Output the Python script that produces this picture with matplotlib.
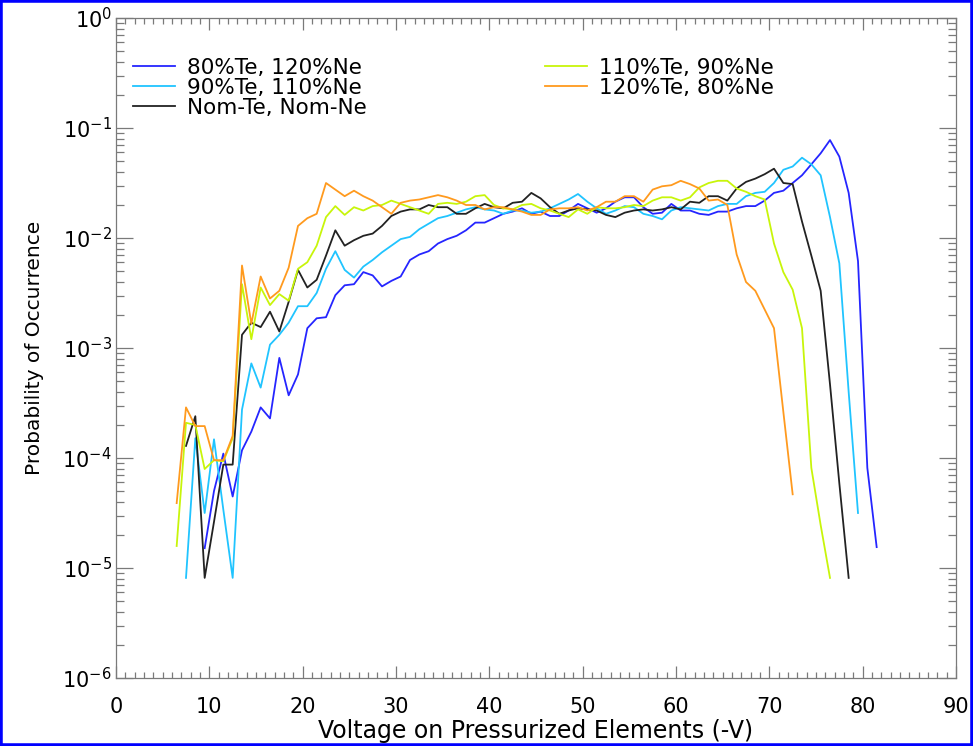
import numpy as np
import matplotlib
matplotlib.use("Agg")
import matplotlib.pyplot as plt
from matplotlib.patches import Rectangle
from matplotlib.ticker import MultipleLocator, LogLocator, FixedLocator, NullFormatter

# log10(probability of occurrence), one value per 1 V bin
v_blue = np.arange(9.5, 82.0, 1.0)
lp_blue = [-4.82, -4.30, -3.96, -4.35, -3.93, -3.76, -3.54, -3.64, -3.09, -3.43,
           -3.24, -2.82, -2.73, -2.72, -2.52, -2.43, -2.42, -2.31, -2.34, -2.44,
           -2.39, -2.35, -2.20, -2.15, -2.12, -2.05, -2.01, -1.98, -1.93, -1.86,
           -1.86, -1.82, -1.78, -1.76, -1.73, -1.78, -1.76, -1.80, -1.80, -1.75,
           -1.69, -1.73, -1.77, -1.73, -1.67, -1.63, -1.63, -1.72, -1.78, -1.77,
           -1.69, -1.75, -1.75, -1.78, -1.79, -1.76, -1.76, -1.73, -1.71, -1.71,
           -1.66, -1.59, -1.57, -1.50, -1.43, -1.33, -1.23, -1.11, -1.26, -1.59,
           -2.21, -4.09, -4.81]

v_cyan = np.arange(7.5, 80.0, 1.0)
lp_cyan = [-5.09, -3.82, -4.50, -3.83, -4.47, -5.09, -3.56, -3.14, -3.36, -2.97,
           -2.88, -2.77, -2.62, -2.62, -2.50, -2.28, -2.12, -2.29, -2.36, -2.26,
           -2.20, -2.13, -2.07, -2.01, -1.99, -1.92, -1.87, -1.82, -1.80, -1.77,
           -1.74, -1.72, -1.74, -1.75, -1.78, -1.75, -1.75, -1.77, -1.76, -1.73,
           -1.69, -1.65, -1.60, -1.67, -1.73, -1.78, -1.75, -1.71, -1.72, -1.78,
           -1.80, -1.83, -1.75, -1.72, -1.73, -1.74, -1.75, -1.71, -1.69, -1.69,
           -1.62, -1.59, -1.58, -1.50, -1.38, -1.35, -1.27, -1.33, -1.43, -1.81,
           -2.23, -3.40, -4.50]

v_nom = np.arange(7.5, 79.0, 1.0)
lp_nom = [-3.89, -3.62, -5.09, -4.58, -4.06, -4.06, -2.88, -2.77, -2.81, -2.67,
          -2.85, -2.58, -2.29, -2.45, -2.38, -2.16, -1.93, -2.07, -2.02, -1.98,
          -1.96, -1.89, -1.80, -1.76, -1.74, -1.74, -1.70, -1.72, -1.72, -1.78,
          -1.78, -1.73, -1.69, -1.72, -1.73, -1.68, -1.67, -1.59, -1.64, -1.72,
          -1.78, -1.75, -1.73, -1.74, -1.75, -1.79, -1.81, -1.77, -1.75, -1.74,
          -1.75, -1.74, -1.72, -1.74, -1.67, -1.68, -1.62, -1.62, -1.66, -1.55,
          -1.49, -1.46, -1.42, -1.37, -1.50, -1.51, -1.85, -2.16, -2.48, -3.33,
          -4.23, -5.09]

v_yel = np.arange(6.5, 77.0, 1.0)
lp_yel = [-4.80, -3.68, -3.70, -4.10, -4.02, -4.03, -3.82, -2.42, -2.92, -2.45,
          -2.61, -2.51, -2.57, -2.28, -2.22, -2.07, -1.81, -1.71, -1.79, -1.72,
          -1.75, -1.71, -1.70, -1.66, -1.69, -1.72, -1.75, -1.78, -1.69, -1.68,
          -1.69, -1.67, -1.62, -1.61, -1.70, -1.73, -1.74, -1.70, -1.69, -1.73,
          -1.75, -1.78, -1.81, -1.74, -1.78, -1.72, -1.73, -1.73, -1.72, -1.70,
          -1.71, -1.66, -1.63, -1.63, -1.66, -1.63, -1.54, -1.50, -1.48, -1.48,
          -1.55, -1.58, -1.62, -1.65, -2.05, -2.31, -2.47, -2.82, -4.09, -4.61,
          -5.09]

v_org = np.arange(6.5, 73.0, 1.0)
lp_org = [-4.41, -3.54, -3.71, -3.71, -4.02, -4.02, -3.80, -2.25, -2.78, -2.35,
          -2.55, -2.48, -2.27, -1.89, -1.82, -1.78, -1.50, -1.56, -1.62, -1.57,
          -1.62, -1.66, -1.72, -1.78, -1.68, -1.66, -1.65, -1.63, -1.61, -1.63,
          -1.66, -1.70, -1.70, -1.74, -1.72, -1.72, -1.74, -1.76, -1.79, -1.79,
          -1.74, -1.73, -1.73, -1.72, -1.75, -1.72, -1.67, -1.67, -1.62, -1.62,
          -1.67, -1.56, -1.53, -1.52, -1.48, -1.51, -1.55, -1.66, -1.65, -1.70,
          -2.15, -2.40, -2.48, -2.65, -2.82, -3.58, -4.33]

labels = ["80%Te, 120%Ne", "90%Te, 110%Ne", "Nom-Te, Nom-Ne",
          "110%Te, 90%Ne", "120%Te, 80%Ne"]
colors = ["#2525ff", "#20c4ff", "#222222", "#c8f50a", "#ff9a1e"]

series = [(v_blue, lp_blue), (v_cyan, lp_cyan), (v_nom, lp_nom),
          (v_yel, lp_yel), (v_org, lp_org)]

plt.rcParams["font.family"] = "DejaVu Sans"
plt.rcParams["mathtext.default"] = "regular"

fig = plt.figure(figsize=(9.73, 7.46), dpi=100)
# axes box: x 116..956 px, y 18..678 px
ax = fig.add_axes([116 / 973, 1 - 678 / 746, 840 / 973, 660 / 746])

handles = []
for (v, lp), c, lab in zip(series, colors, labels):
    h, = ax.plot(v, 10.0 ** np.array(lp), color=c, lw=1.3, label=lab)
    handles.append(h)

ax.set_yscale("log")
ax.set_xlim(0, 90)
ax.set_ylim(1e-6, 1.0)

ax.xaxis.set_major_locator(MultipleLocator(10))
ax.xaxis.set_minor_locator(MultipleLocator(1))
ax.yaxis.set_major_locator(FixedLocator([10.0 ** k for k in range(-6, 1)]))
ax.yaxis.set_minor_locator(LogLocator(base=10, subs=np.arange(2, 10)))
ax.yaxis.set_minor_formatter(NullFormatter())
ax.set_yticklabels(["10$^{%d}$" % k for k in range(-6, 1)])

axis_grey = "#7a7a7a"
ax.tick_params(which="both", direction="in", top=True, right=True,
               color=axis_grey, width=0.9, labelsize=15)
ax.tick_params(axis="x", which="major", length=8.5, pad=14)
ax.tick_params(axis="x", which="minor", length=4.3)
ax.tick_params(axis="y", which="major", length=12, pad=3)
ax.tick_params(axis="y", which="minor", length=5.8)
for s in ax.spines.values():
    s.set_color(axis_grey)
    s.set_linewidth(0.9)

ax.set_xlabel("Voltage on Pressurized Elements (-V)", fontsize=17, labelpad=1)
ax.set_ylabel("Probability of Occurrence", fontsize=14.5, labelpad=13)

leg_kw = dict(loc="upper left", frameon=False, fontsize=15.5,
              handlelength=1.95, handletextpad=0.56, labelspacing=0.0,
              borderaxespad=0, borderpad=0)
leg1 = ax.legend(handles[:3], labels[:3], bbox_to_anchor=(0.0202, 0.940), **leg_kw)
ax.add_artist(leg1)
ax.legend(handles[3:], labels[3:], bbox_to_anchor=(0.511, 0.940), **leg_kw)

fig.patches.append(Rectangle((0, 0), 1, 1, transform=fig.transFigure,
                             fill=False, edgecolor="#0000ff", linewidth=4))

fig.savefig("out.png", dpi=100)
